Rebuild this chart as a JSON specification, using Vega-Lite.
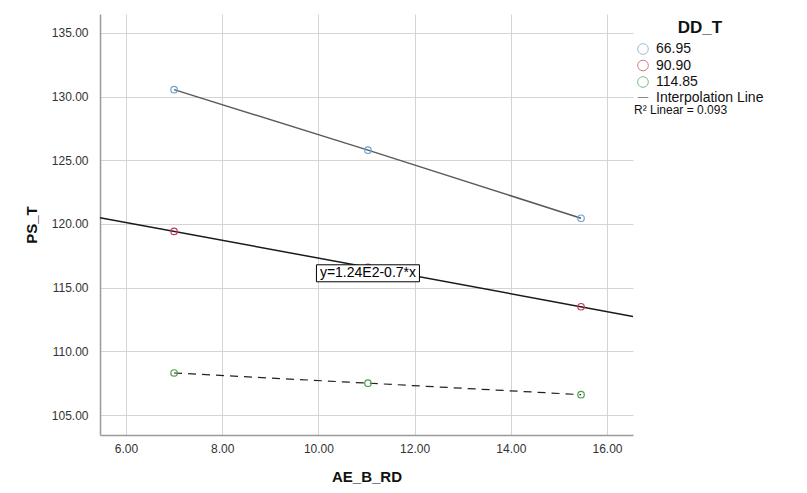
{
  "$schema": "https://vega.github.io/schema/vega-lite/v6.json",
  "width": 533,
  "height": 421,
  "autosize": {"type": "none"},
  "padding": {"left": 100, "top": 14, "right": 174, "bottom": 58},
  "background": "white",
  "config": {"view": {"stroke": null}, "font": "Liberation Sans"},
  "data": {
    "values": [
      {"DD_T": "66.95", "AE_B_RD": 7.0, "PS_T": 130.55},
      {"DD_T": "66.95", "AE_B_RD": 11.03, "PS_T": 125.8},
      {"DD_T": "66.95", "AE_B_RD": 15.46, "PS_T": 120.45},
      {"DD_T": "90.90", "AE_B_RD": 7.0, "PS_T": 119.42},
      {"DD_T": "90.90", "AE_B_RD": 11.03, "PS_T": 116.6},
      {"DD_T": "90.90", "AE_B_RD": 15.46, "PS_T": 113.5},
      {"DD_T": "114.85", "AE_B_RD": 7.0, "PS_T": 108.3},
      {"DD_T": "114.85", "AE_B_RD": 11.03, "PS_T": 107.5},
      {"DD_T": "114.85", "AE_B_RD": 15.46, "PS_T": 106.6}
    ]
  },
  "encoding": {
    "x": {
      "field": "AE_B_RD", "type": "quantitative",
      "scale": {"domain": [5.46, 16.54], "nice": false, "zero": false},
      "axis": {
        "title": "AE_B_RD", "values": [6, 8, 10, 12, 14, 16], "format": ".2f",
        "grid": true, "gridColor": "#d4d4d4", "gridWidth": 1,
        "domainColor": "#9a9a9a", "domainWidth": 1.5, "ticks": false,
        "labelFontSize": 12, "labelColor": "#333333", "labelPadding": 8,
        "titleFontSize": 15, "titleFontWeight": "bold", "titleColor": "#111111", "titlePadding": 15
      }
    },
    "y": {
      "field": "PS_T", "type": "quantitative",
      "scale": {"domain": [103.43, 136.49], "nice": false, "zero": false},
      "axis": {
        "title": "PS_T", "values": [105, 110, 115, 120, 125, 130, 135], "format": ".2f",
        "grid": true, "gridColor": "#d4d4d4", "gridWidth": 1,
        "domainColor": "#9a9a9a", "domainWidth": 1.5, "ticks": false,
        "labelFontSize": 12, "labelColor": "#333333", "labelPadding": 12,
        "titleFontSize": 15, "titleFontWeight": "bold", "titleColor": "#111111", "titlePadding": 12
      }
    }
  },
  "layer": [
    {
      "transform": [{"filter": "datum.DD_T === '66.95'"}],
      "mark": {"type": "line", "color": "#5a5a5a", "strokeWidth": 1.5},
      "encoding": {}
    },
    {
      "transform": [{"filter": "datum.DD_T === '114.85'"}],
      "mark": {"type": "line", "color": "#222222", "strokeWidth": 1.2, "strokeDash": [8, 6]},
      "encoding": {}
    },
    {
      "transform": [
        {"filter": "datum.DD_T === '90.90'"},
        {"regression": "PS_T", "on": "AE_B_RD", "extent": [5.46, 16.54]}
      ],
      "mark": {"type": "line", "color": "#1a1a1a", "strokeWidth": 1.5},
      "encoding": {}
    },
    {
      "mark": {"type": "point", "filled": false, "size": 42, "strokeWidth": 1.2},
      "encoding": {
        "color": {
          "field": "DD_T", "type": "nominal",
          "scale": {
            "domain": ["66.95", "90.90", "114.85", "Interpolation Line"],
            "range": ["#6fa3d0", "#c73a5b", "#4f9e4f", "#555555"]
          },
          "legend": {
            "title": "DD_T", "orient": "none", "legendX": 536, "legendY": 6,
            "titleFontSize": 17, "titleFontWeight": "bold", "titleColor": "#111111", "titleAnchor": "middle", "titlePadding": 5,
            "labelFontSize": 14, "labelColor": "#111111", "labelOffset": 6,
            "symbolSize": 113, "symbolStrokeWidth": 1, "rowPadding": 0.5
          }
        },
        "shape": {
          "field": "DD_T", "type": "nominal",
          "scale": {
            "domain": ["66.95", "90.90", "114.85", "Interpolation Line"],
            "range": ["circle", "circle", "circle", "stroke"]
          },
          "legend": {
            "title": "DD_T", "orient": "none", "legendX": 536, "legendY": 6,
            "titleFontSize": 17, "titleFontWeight": "bold", "titleColor": "#111111", "titleAnchor": "middle", "titlePadding": 5,
            "labelFontSize": 14, "labelColor": "#111111", "labelOffset": 6,
            "symbolSize": 113, "symbolStrokeWidth": 1, "rowPadding": 0.5
          }
        },
        "opacity": {
          "datum": "R2", "type": "nominal",
          "scale": {"range": [1]},
          "legend": {
            "title": "R² Linear = 0.093", "orient": "none", "legendX": 534, "legendY": 91,
            "titleFontSize": 12, "titleFontWeight": "normal", "titleColor": "#111111",
            "symbolSize": 0, "symbolStrokeWidth": 0, "symbolOpacity": 0,
            "symbolStrokeColor": "transparent", "symbolFillColor": "transparent", "labelExpr": "''"
          }
        }
      }
    },
    {
      "transform": [{"filter": "datum.DD_T === '90.90' && datum.AE_B_RD === 11.03"}],
      "mark": {"type": "point", "shape": "M-1,-0.165H1V0.165H-1Z", "filled": true, "fill": "white", "stroke": "black", "strokeWidth": 1, "opacity": 1, "size": 10609},
      "encoding": {"yOffset": {"value": 6}}
    },
    {
      "transform": [{"filter": "datum.DD_T === '90.90' && datum.AE_B_RD === 11.03"}],
      "mark": {"type": "text", "fontSize": 14, "color": "black", "baseline": "middle", "align": "center"},
      "encoding": {"text": {"value": "y=1.24E2-0.7*x"}, "yOffset": {"value": 6}}
    }
  ]
}
